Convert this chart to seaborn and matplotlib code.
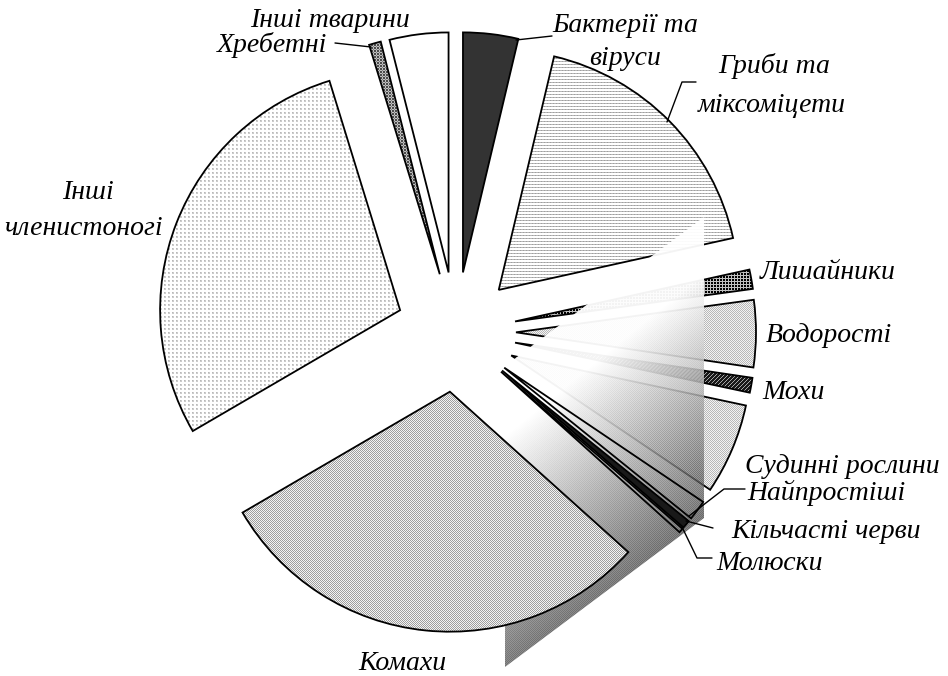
import numpy as np
import matplotlib.pyplot as plt
from matplotlib.patches import Polygon
from matplotlib.transforms import Affine2D
import seaborn as sns

# Groups of organisms, clockwise from 12 o'clock
groups = ['Бактерії та віруси', 'Гриби та міксоміцети', 'Лишайники', 'Водорості', 'Мохи',
          'Судинні рослини', 'Найпростіші', 'Кільчасті черви', 'Молюски', 'Комахи',
          'Інші членистоногі', 'Хребетні', 'Інші тварини']
shares = [3.7, 17.8, 1.3, 4.5, 1.0, 6.1, 1.35, 0.55, 0.3, 29.9, 28.6, 0.8, 3.95]

# pixel tiles standing in for the print fill patterns
tiles = {
    'solid': np.array([[0.2]]),
    'lines': np.array([[1, 1, 1], [0.72, 0.62, 0.72], [1, 1, 1]]),
    'grid': np.array([[0.0, 0.0, 0.75], [0.0, 0.0, 0.75], [0.75, 0.75, 0.75]]),
    'check': np.array([[0.72, 0.95], [0.95, 0.72]]),
    'check_dark': np.array([[0.62, 0.95], [0.95, 0.62]]),
    'dots': np.array([[0.72, 0.8, 1, 1], [0.8, 0.8, 1, 1], [1, 1, 1, 1], [1, 1, 1, 1]]),
    'diag': np.array([[0.1, 0.1, 0.65, 0.1], [0.1, 0.65, 0.1, 0.1], [0.65, 0.1, 0.1, 0.1], [0.1, 0.1, 0.1, 0.65]]),
    'cross': np.array([[0.3, 0.75, 0.3], [0.75, 0.5, 0.75], [0.3, 0.75, 0.3]]),
}
patterns = ['solid', 'lines', 'grid', 'check', 'diag', 'check', None, 'solid', None,
            'check_dark', 'dots', 'cross', None]

sns.set_theme(style='white')
plt.rcParams['font.family'] = ['Liberation Serif', 'DejaVu Serif']

W, H = 948, 676
fig = plt.figure(figsize=(W / 100, H / 100), dpi=100)
ax = fig.add_axes([0, 0, 1, 1])

# image pixels (y down) -> display
px = Affine2D().scale(1, -1).translate(0, H)

# pie centre 456,332 and radius 240 px
R = 240.0
cx, cy = 456.0, 332.0
limits = (-cx / R, (W - cx) / R, -(H - cy) / R, cy / R)
wedges, _ = ax.pie(shares, startangle=90, counterclock=False, explode=[0.25] * len(shares),
                   colors=['none'] * len(shares), wedgeprops=dict(edgecolor='black', linewidth=1.3))

raised = {6, 7, 8, 9}  # these sit on top of the shaded block
for i, (w, name) in enumerate(zip(wedges, patterns)):
    w.set_zorder(6 if i in raised else 2)
    if name is None:
        continue
    tile = tiles[name]
    reps = (H // tile.shape[0] + 1, W // tile.shape[1] + 1)
    tex = np.tile(tile, reps)[:H, :W]
    if i == 7:
        tex = tex * 0.5
    img = ax.imshow(tex, cmap='gray', vmin=0, vmax=1, extent=limits, origin='upper',
                    interpolation='nearest', aspect='equal', zorder=5 if i in raised else 1)
    img.set_clip_path(w)

# shaded parallelogram lying over the right-hand slices
pts = [(704, 217), (704, 518), (505, 667), (505, 366)]
yy, xx = np.mgrid[0:H, 0:W]
d = np.clip(0.08 + 0.0018 * (xx - 520) + 0.0022 * (yy - 460), 0, None)
a = np.clip(0.96 - 0.5 * d, 0, 1)
grey = np.clip(1 - d / a, 0, 1)
grey = np.clip(grey + 0.15 * d * (((xx + yy) % 2) * 2 - 1), 0, 1)
rgba = np.dstack([grey, grey, grey, a])
shade = ax.imshow(rgba, extent=limits, origin='upper', aspect='equal', zorder=3, interpolation='nearest')
clip = Polygon(pts, closed=True, transform=px, facecolor='none', edgecolor='none')
ax.add_patch(clip)
shade.set_clip_path(clip)

ax.set_xlim(limits[0], limits[1])
ax.set_ylim(limits[2], limits[3])
ax.set_aspect('equal')
ax.axis('off')

# labels
labels = [
    (552, 32, 'Бактерії та'), (589, 65, 'віруси'),
    (718, 73, 'Гриби та'), (698, 112, 'міксоміцети'),
    (760, 279, 'Лишайники'), (766, 342, 'Водорості'), (762, 399, 'Мохи'),
    (745, 473, 'Судинні рослини'), (747, 500, 'Найпростіші'),
    (731, 538, 'Кільчасті черви'), (716, 570, 'Молюски'),
    (358, 670, 'Комахи'), (62, 199, 'Інші'), (4, 235, 'членистоногі'),
    (217, 52, 'Хребетні'), (250, 27, 'Інші тварини'),
]
for x, y, s in labels:
    ax.text(x, y, s, transform=px, ha='left', va='baseline', fontsize=20, style='italic',
            color='black', zorder=8)

# leader lines
leaders = [
    [(516, 40), (552, 36)],
    [(667, 122), (682, 82), (696, 82)],
    [(335, 43), (371, 47)],
    [(689, 516), (724, 489), (745, 489)],
    [(686, 521), (713, 528)],
    [(682, 527), (697, 558), (712, 558)],
]
for seg in leaders:
    xs, ys = zip(*seg)
    ax.plot(xs, ys, transform=px, color='black', lw=1.0, zorder=7)

fig.savefig('out.png', dpi=100)
